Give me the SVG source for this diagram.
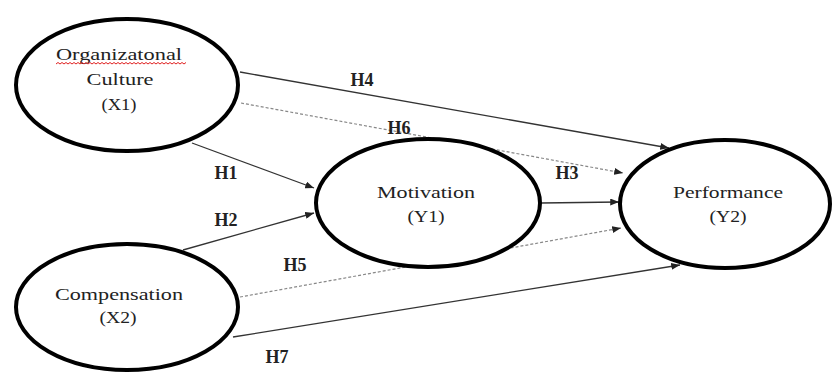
<svg xmlns="http://www.w3.org/2000/svg" width="832" height="373" viewBox="0 0 832 373">
  <defs>
    <marker id="arrow" viewBox="0 0 10 8" refX="10" refY="4" markerWidth="9" markerHeight="7" markerUnits="userSpaceOnUse" orient="auto">
      <path d="M0,0 L10,4 L0,8 Z" fill="#222"/>
    </marker>
    <style>
      .node { fill: #fff; stroke: #000; stroke-width: 4; }
      .lbl { font-family: "Liberation Serif", "Times New Roman", serif; font-size: 16px; fill: #222; text-anchor: middle; }
      .hyp { font-family: "Liberation Serif", "Times New Roman", serif; font-size: 18px; font-weight: bold; fill: #222; text-anchor: middle; }
      .solid { stroke: #333; stroke-width: 1.3; fill: none; }
      .dash { stroke: #888; stroke-width: 1.2; stroke-dasharray: 3 2; fill: none; }
      .squiggle { stroke: #e02020; stroke-width: 1; fill: none; }
    </style>
  </defs>
  <rect width="832" height="373" fill="#fff"/>

  <!-- paths between the constructs -->
  <g id="connectors">
    <line class="solid" x1="240" y1="72" x2="669" y2="148" marker-end="url(#arrow)"/>
    <line class="dash" x1="241" y1="103" x2="623" y2="173" marker-end="url(#arrow)"/>
    <line class="solid" x1="192" y1="143" x2="314" y2="188" marker-end="url(#arrow)"/>
    <line class="solid" x1="183" y1="250" x2="314" y2="213" marker-end="url(#arrow)"/>
    <line class="solid" x1="541" y1="203" x2="619" y2="202" marker-end="url(#arrow)"/>
    <line class="dash" x1="240" y1="297" x2="621" y2="228" marker-end="url(#arrow)"/>
    <line class="solid" x1="233" y1="337" x2="680" y2="265" marker-end="url(#arrow)"/>
    <text class="hyp" x="362" y="86">H4</text>
    <text class="hyp" x="399" y="134">H6</text>
    <text class="hyp" x="226" y="179">H1</text>
    <text class="hyp" x="226" y="226">H2</text>
    <text class="hyp" x="567" y="179">H3</text>
    <text class="hyp" x="295" y="271">H5</text>
    <text class="hyp" x="277" y="363">H7</text>
  </g>

  <g id="x1-culture">
    <ellipse class="node" cx="127" cy="85" rx="111" ry="66"/>
    <text class="lbl" x="119" y="60" textLength="126" lengthAdjust="spacingAndGlyphs">Organizatonal</text>
    <path class="squiggle" d="M56 64 l2 -1.5 l2 1.5 l2 -1.5 l2 1.5 l2 -1.5 l2 1.5 l2 -1.5 l2 1.5 l2 -1.5 l2 1.5 l2 -1.5 l2 1.5 l2 -1.5 l2 1.5 l2 -1.5 l2 1.5 l2 -1.5 l2 1.5 l2 -1.5 l2 1.5 l2 -1.5 l2 1.5 l2 -1.5 l2 1.5 l2 -1.5 l2 1.5 l2 -1.5 l2 1.5 l2 -1.5 l2 1.5 l2 -1.5 l2 1.5 l2 -1.5 l2 1.5 l2 -1.5 l2 1.5 l2 -1.5 l2 1.5 l2 -1.5 l2 1.5 l2 -1.5 l2 1.5 l2 -1.5 l2 1.5 l2 -1.5 l2 1.5 l2 -1.5 l2 1.5 l2 -1.5 l2 1.5 l2 -1.5 l2 1.5 l2 -1.5 l2 1.5 l2 -1.5 l2 1.5 l2 -1.5 l2 1.5 l2 -1.5 l2 1.5 l2 -1.5 l2 1.5 l2 -1.5 l2 1.5 l2 -1.5"/>
    <text class="lbl" x="120" y="85" textLength="67" lengthAdjust="spacingAndGlyphs">Culture</text>
    <text class="lbl" x="119" y="110" textLength="35" lengthAdjust="spacingAndGlyphs">(X1)</text>
  </g>

  <g id="x2-compensation">
    <ellipse class="node" cx="127" cy="307" rx="111" ry="63"/>
    <text class="lbl" x="119" y="300" textLength="128" lengthAdjust="spacingAndGlyphs">Compensation</text>
    <text class="lbl" x="118" y="323" textLength="37" lengthAdjust="spacingAndGlyphs">(X2)</text>
  </g>

  <g id="y1-motivation">
    <ellipse class="node" cx="428" cy="203" rx="112" ry="64"/>
    <text class="lbl" x="426" y="198" textLength="98" lengthAdjust="spacingAndGlyphs">Motivation</text>
    <text class="lbl" x="426" y="222" textLength="37" lengthAdjust="spacingAndGlyphs">(Y1)</text>
  </g>

  <g id="y2-performance">
    <ellipse class="node" cx="725" cy="204" rx="105" ry="64"/>
    <text class="lbl" x="728" y="198" textLength="110" lengthAdjust="spacingAndGlyphs">Performance</text>
    <text class="lbl" x="728" y="222" textLength="37" lengthAdjust="spacingAndGlyphs">(Y2)</text>
  </g>
</svg>
